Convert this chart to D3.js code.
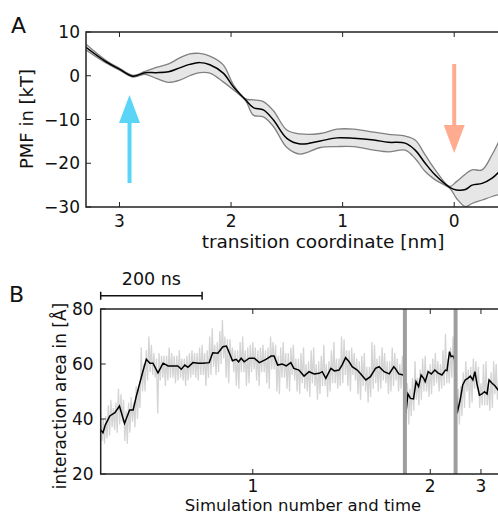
<!DOCTYPE html>
<html><head><meta charset="utf-8">
<script src="https://cdn.jsdelivr.net/npm/d3@7"></script>
<style>body{margin:0;background:#fff}svg{display:block}text{font-family:"DejaVu Sans",sans-serif;fill:#111}</style>
</head><body><svg id="c" width="498" height="514"></svg>
<script>
// ---- Panel A data (PMF) ----
const pmfCoord = [3.30,3.12,3.00,2.88,2.77,2.67,2.56,2.46,2.37,2.28,2.19,2.07,1.98,1.87,1.80,1.71,1.62,1.50,1.38,1.20,1.05,0.90,0.72,0.59,0.44,0.35,0.26,0.17,0.04,-0.02,-0.10,-0.16,-0.25,-0.34,-0.40];
const pmfMean  = [6.5,3.2,1.5,-0.1,0.7,0.7,0.9,1.8,2.6,3.0,2.5,0.6,-2.5,-5.5,-7.3,-7.8,-10.1,-14.3,-15.6,-14.9,-14.2,-14.3,-14.7,-15.2,-15.4,-17.0,-20.0,-22.7,-25.5,-26.1,-26.0,-25.0,-24.6,-23.4,-22.0];
const pmfUpper = [7.2,3.5,1.7,0.1,1.0,1.9,2.7,4.1,5.0,5.1,4.5,2.5,-2.0,-5.3,-5.5,-5.9,-8.0,-12.4,-13.3,-13.2,-12.2,-12.2,-12.9,-13.4,-13.8,-14.7,-18.1,-21.5,-25.3,-24.2,-22.5,-21.5,-21.5,-18.0,-15.0];
const pmfLower = [5.9,2.9,1.3,-0.3,0.3,-0.6,-1.5,-1.0,0.0,0.7,0.6,-1.4,-3.2,-5.7,-9.0,-9.4,-11.6,-16.4,-17.9,-16.4,-16.2,-16.2,-17.0,-17.4,-17.0,-18.9,-21.9,-23.8,-25.7,-28.0,-29.9,-29.2,-28.4,-27.6,-27.2];
const pmfXTicks = [3,2,1,0];
const pmfYTicks = [10,0,-10,-20,-30];
const arrowCyanAt = 2.91, arrowSalmonAt = 0.0;

// ---- Panel B data (interaction area) ----
const smoothTime = [0,4.5,9,18,28,37,47,57,64,70,77,83,90,97,103,113,123,133,143,152,159,166,172,182,192,201,214,221,231,241,248,254,260,267,272,277,283,293,303,313,326,336,342,349,358,366,375,381,391,401,411,421,431,437,444,454,461,470,476,483,490,496,506,513,523,532,542,549,559,569,578,581,588,597,599,602,606,611,617,622,627,632,637,640,646,652,659,665,673,680,683,688,691,695,698,703,709,714,719,724,729,734,738,742,747,752,757,762,766,772,778,784,800];
const smoothValue = [36.0,35.0,37.8,41.1,42.3,44.7,38.4,43.3,43.3,48.1,53.0,57.2,61.7,60.3,60.3,56.8,60.3,59.3,59.3,59.3,58.1,59.6,58.8,60.5,60.3,60.3,60.5,64.1,63.9,66.3,66.5,63.9,61.2,61.7,60.8,62.1,60.8,62.1,62.1,60.5,61.7,62.9,62.9,59.6,60.0,59.3,60.5,58.4,57.8,55.6,57.2,56.4,56.6,57.2,54.8,58.4,57.5,57.8,59.6,62.3,60.8,59.0,57.8,56.4,54.2,55.4,58.4,59.0,57.2,56.4,59.0,58.4,56.4,56.0,57.2,42.1,49.1,47.5,47.3,53.6,51.8,56.0,54.8,53.6,57.2,56.4,57.8,56.8,56.0,57.8,57.6,64.5,62.7,62.9,61.7,42.1,46.9,52.4,54.2,54.8,55.6,54.2,57.2,53.0,48.7,49.1,49.9,49.1,54.2,53.0,52.0,50.5,49.0];
// raw trace per 10 ns bin: extreme spikes and typical band edges
const rawHigh = [42,45,47,51,49,46,48,52,66,70,67,64,63,66,64,65,62,64,65,66,67,70,73,72,76,69,66,68,70,67,68,66,67,70,68,66,68,66,67,64,66,65,66,63,67,65,68,70,69,66,64,63,64,68,67,66,64,66,64,63,52,55,61,62,63,62,64,65,71,70,50,57,61,62,61,60,61,61,60,59];
const rawLow  = [31,33,36,35,32,31,37,40,50,54,55,42,52,54,53,54,52,54,55,54,52,55,56,57,55,53,52,51,52,53,54,52,53,51,50,49,51,50,50,49,50,48,47,49,48,50,51,52,52,50,49,47,46,48,50,51,49,50,50,51,38,41,45,47,48,49,50,51,53,55,38,41,44,46,44,45,43,44,45,44];
const rawInnerHigh = [40,41,44,46,47,43,46,52,60,65,64,62,63,63,63,63,62,63,64,64,64,65,67,68,70,69,65,65,65,66,66,65,65,66,67,63,64,64,62,62,60,61,60,61,60,61,62,62,65,65,62,61,59,59,62,63,61,61,62,60,53,51,55,58,58,60,61,60,62,66,51,52,58,59,59,53,53,57,55,54];
const rawInnerLow  = [32,34,37,38,39,35,39,44,50,57,56,54,55,55,55,55,54,55,56,56,56,56,59,60,62,61,57,57,57,57,58,57,57,58,58,55,55,56,54,53,51,53,52,52,52,53,53,53,56,56,54,52,50,51,53,54,53,52,54,52,45,43,47,50,50,52,53,52,53,58,43,44,50,51,51,45,45,49,47,46];
const rawBin = 10;
const simBoundaries = [600,700];
const simTickPos = [300,650,750];
const simTickLabels = ["1","2","3"];
const areaYTicks = [80,60,40,20];
const scaleBarNs = 200;

const svg = d3.select("#c");
const FS = 17;

// ================= Panel A =================
const ax = {l:86, r:510, t:32, b:207};
const xA = d3.scaleLinear().domain([3.3,-0.5]).range([ax.l, ax.r]);
const yA = d3.scaleLinear().domain([-30,10]).range([ax.b, ax.t]);
svg.append("clipPath").attr("id","clipA").append("rect").attr("x",ax.l).attr("y",ax.t).attr("width",ax.r-ax.l).attr("height",ax.b-ax.t);
const gA = svg.append("g").attr("clip-path","url(#clipA)");
const idx = d3.range(pmfCoord.length);
const curve = d3.curveCatmullRom.alpha(0.5);
gA.append("path").attr("d", d3.area().curve(curve).x(i=>xA(pmfCoord[i])).y0(i=>yA(pmfLower[i])).y1(i=>yA(pmfUpper[i]))(idx))
  .attr("fill","#e6e6e6");
[pmfUpper,pmfLower].forEach(arr=>{
  gA.append("path").attr("d", d3.line().curve(curve).x(i=>xA(pmfCoord[i])).y(i=>yA(arr[i]))(idx))
    .attr("fill","none").attr("stroke","#808080").attr("stroke-width",1.3);
});
gA.append("path").attr("d", d3.line().curve(curve).x(i=>xA(pmfCoord[i])).y(i=>yA(pmfMean[i]))(idx))
  .attr("fill","none").attr("stroke","#000").attr("stroke-width",1.5);

// arrows (pixel tail/tip)
function arrow(x, yTail, yTip, color){
  const dir = yTip < yTail ? -1 : 1;
  const headLen = 28, headW = 10.5;
  const yBase = yTip - dir*headLen;
  svg.append("line").attr("x1",x).attr("x2",x).attr("y1",yTail).attr("y2",yBase)
    .attr("stroke",color).attr("stroke-width",4);
  svg.append("path").attr("d",`M${x-headW},${yBase}L${x},${yTip}L${x+headW},${yBase}Z`).attr("fill",color);
}
arrow(xA(arrowCyanAt), 183, 95, "#5ad5f8");
arrow(xA(arrowSalmonAt), 64, 153, "#ffab90");

// axes A
function frame(l,r,t,b){
  svg.append("path").attr("d",`M${r},${t}H${l}V${b}H${r}`).attr("fill","none").attr("stroke","#222").attr("stroke-width",1.5);
}
frame(ax.l, 503, ax.t, ax.b);
pmfXTicks.forEach(v=>{
  const x = xA(v);
  svg.append("line").attr("x1",x).attr("x2",x).attr("y1",ax.b).attr("y2",ax.b-5).attr("stroke","#222").attr("stroke-width",1);
  svg.append("line").attr("x1",x).attr("x2",x).attr("y1",ax.t).attr("y2",ax.t+5).attr("stroke","#222").attr("stroke-width",1);
  svg.append("text").attr("x",x).attr("y",ax.b+20).attr("text-anchor","middle").attr("font-size",FS).text(d3.format("d")(v));
});
pmfYTicks.forEach(v=>{
  const y = yA(v);
  svg.append("line").attr("x1",ax.l).attr("x2",ax.l+5).attr("y1",y).attr("y2",y).attr("stroke","#222").attr("stroke-width",1);
  svg.append("text").attr("x",ax.l-6).attr("y",y+6).attr("text-anchor","end").attr("font-size",FS).text(v<0?"\u2212"+Math.abs(v):v);
});
svg.append("text").attr("x",323).attr("y",248).attr("text-anchor","middle").attr("font-size",18.5).text("transition coordinate [nm]");
svg.append("text").attr("transform","translate(33,119) rotate(-90)").attr("text-anchor","middle").attr("font-size",18).text("PMF in [kT]");
svg.append("text").attr("x",11).attr("y",33).attr("font-size",22).text("A");

// ================= Panel B =================
const bx = {l:100.7, r:506.3, t:309, b:474};
const xB = d3.scaleLinear().domain([0,800]).range([bx.l, bx.r]);
const yB = d3.scaleLinear().domain([20,80]).range([bx.b, bx.t]);
svg.append("clipPath").attr("id","clipB").append("rect").attr("x",bx.l).attr("y",bx.t).attr("width",bx.r-bx.l).attr("height",bx.b-bx.t);
const gB = svg.append("g").attr("clip-path","url(#clipB)");
const rawPts = [];
rawHigh.forEach((h,i)=>{
  const t = i*rawBin, q = rawBin/4;
  if (i%2===0) {
    rawPts.push([t, h], [t+q, rawInnerLow[i]], [t+2*q, rawInnerHigh[i]], [t+3*q, rawLow[i]]);
  } else {
    rawPts.push([t, rawInnerHigh[i]], [t+q, rawLow[i]], [t+2*q, h], [t+3*q, rawInnerLow[i]]);
  }
});
gB.append("path").attr("d", d3.line().x(d=>xB(d[0])).y(d=>yB(d[1]))(rawPts))
  .attr("fill","none").attr("stroke","#d4d4d4").attr("stroke-width",1.3);
gB.append("path").attr("d", d3.line().x((d,i)=>xB(smoothTime[i])).y((d,i)=>yB(smoothValue[i]))(smoothTime))
  .attr("fill","none").attr("stroke","#000").attr("stroke-width",1.5);
simBoundaries.forEach(t=>{
  gB.append("line").attr("x1",xB(t)).attr("x2",xB(t)).attr("y1",bx.t).attr("y2",bx.b).attr("stroke","#9e9e9e").attr("stroke-width",4);
});
frame(bx.l, 503, bx.t, bx.b);
simTickPos.forEach((t,i)=>{
  const x = xB(t);
  svg.append("line").attr("x1",x).attr("x2",x).attr("y1",bx.b).attr("y2",bx.b-5).attr("stroke","#222").attr("stroke-width",1);
  svg.append("line").attr("x1",x).attr("x2",x).attr("y1",bx.t).attr("y2",bx.t+5).attr("stroke","#222").attr("stroke-width",1);
  svg.append("text").attr("x",x).attr("y",bx.b+17.5).attr("text-anchor","middle").attr("font-size",FS).text(simTickLabels[i]);
});
areaYTicks.forEach(v=>{
  const y = yB(v);
  svg.append("line").attr("x1",bx.l).attr("x2",bx.l+5).attr("y1",y).attr("y2",y).attr("stroke","#222").attr("stroke-width",1);
  svg.append("text").attr("x",bx.l-7).attr("y",y+6).attr("text-anchor","end").attr("font-size",FS).text(v);
});
svg.append("text").attr("x",303).attr("y",510.5).attr("text-anchor","middle").attr("font-size",16.5).text("Simulation number and time");
svg.append("text").attr("transform","translate(66,396) rotate(-90)").attr("text-anchor","middle").attr("font-size",17).text("interaction area in [Å]");
svg.append("text").attr("x",9).attr("y",302).attr("font-size",22).text("B");
// scale bar
const sb0 = xB(0), sb1 = xB(scaleBarNs), sby = 295.7;
svg.append("path").attr("d",`M${sb0},${sby-4}V${sby+4}M${sb0},${sby}H${sb1}M${sb1},${sby-4}V${sby+4}`).attr("fill","none").attr("stroke","#111").attr("stroke-width",1.5);
svg.append("text").attr("x",(sb0+sb1)/2).attr("y",285).attr("text-anchor","middle").attr("font-size",17.5).text(scaleBarNs+" ns");
</script></body></html>
